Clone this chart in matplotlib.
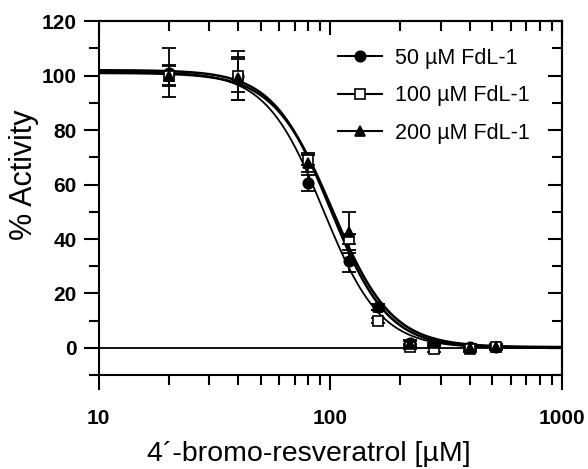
import numpy as np
import matplotlib
matplotlib.use("Agg")
import matplotlib.pyplot as plt
from matplotlib.ticker import LogLocator, MultipleLocator, NullFormatter, FixedLocator

# measured points
conc = [20, 40, 80, 120, 160, 220, 280, 400, 520]
act_50 = [101, 100, 60.5, 32, 15, 2, 1, 0.5, 0.5]
err_50 = [9, 9, 3, 4, 1, 1, 1, 1, 1]
act_100 = [100, 100, 69, 40, 10, 0.5, -0.5, -0.5, 0.3]
err_100 = [4, 6, 2, 2, 1, 1, 1, 1, 1]
act_200 = [100, 99, 68, 42.5, 15, 1.5, 2, 0, 0.5]
err_200 = [3.5, 8, 3.5, 7.5, 1, 1, 1, 1, 1]

# fitted dose-response parameters (top, bottom, IC50, hill)
fit_50 = (101.5, 0, 93, 3.5)
fit_100 = (102, 0, 100, 3.5)
fit_200 = (101, 0.3, 102, 3.4)

labels = ["50 µM FdL-1", "100 µM FdL-1", "200 µM FdL-1"]


def hill(x, p):
    top, bottom, ic50, n = p
    return bottom + (top - bottom) / (1 + (x / ic50) ** n)


plt.rcParams['font.family'] = ['Liberation Sans', 'DejaVu Sans']

fig = plt.figure(figsize=(5.88, 4.69), dpi=100)
ax = fig.add_axes([0.168, 0.200, 0.788, 0.755])

xs = np.logspace(1, 3, 400)
ax.axhline(0, color='black', lw=1.3, zorder=1)

series = [
    (act_50, err_50, fit_50, 'o', 'black', 1.3),
    (act_100, err_100, fit_100, 's', 'white', 1.8),
    (act_200, err_200, fit_200, '^', 'black', 1.8),
]
for (y, e, p, m, fc, lw), lab in zip(series, labels):
    ax.plot(xs, hill(xs, p), color='black', lw=lw, zorder=2)
    ax.errorbar(conc, y, yerr=e, fmt='none', ecolor='black', elinewidth=1.3,
                capsize=5, capthick=1.3, zorder=3)
    ax.plot(conc, y, ls='none', marker=m, ms=7.5, mfc=fc, mec='black',
            mew=1.2, zorder=4)
    ax.plot([], [], color='black', lw=1.5, marker=m, ms=7.5, mfc=fc,
            mec='black', mew=1.2, label=lab)

ax.set_xscale('log')
ax.set_xlim(10, 1000)
ax.set_ylim(-10, 120)

ax.xaxis.set_major_locator(FixedLocator([10, 100, 1000]))
ax.xaxis.set_minor_locator(LogLocator(base=10, subs=np.arange(2, 10)))
ax.xaxis.set_minor_formatter(NullFormatter())
ax.set_xticklabels(['10', '100', '1000'])
ax.set_yticks([0, 20, 40, 60, 80, 100, 120])
ax.yaxis.set_minor_locator(MultipleLocator(10))

for s in ax.spines.values():
    s.set_linewidth(1.5)

ax.tick_params(axis='x', which='major', direction='out', length=11, width=1.5,
               pad=13, labelsize=15, top=False)
ax.tick_params(axis='x', which='minor', direction='out', length=7, width=1.5,
               top=False)
ax.tick_params(axis='y', which='major', direction='out', length=11, width=1.5,
               pad=5, labelsize=15, right=False)
ax.tick_params(axis='y', which='minor', direction='out', length=7, width=1.5,
               right=False)
for lbl in ax.get_xticklabels() + ax.get_yticklabels():
    lbl.set_fontweight('bold')

# inward ticks on top and right
axt = ax.secondary_xaxis('top')
axt.xaxis.set_major_locator(FixedLocator([10, 100, 1000]))
axt.xaxis.set_minor_locator(LogLocator(base=10, subs=np.arange(2, 10)))
axt.tick_params(which='major', direction='in', length=10, width=1.5, labeltop=False)
axt.tick_params(which='minor', direction='in', length=7, width=1.5)
axt.xaxis.set_minor_formatter(NullFormatter())
axt.spines['top'].set_linewidth(1.5)
axr = ax.secondary_yaxis('right')
axr.yaxis.set_major_locator(MultipleLocator(20))
axr.yaxis.set_minor_locator(MultipleLocator(10))
axr.tick_params(which='major', direction='in', length=10, width=1.5, labelright=False)
axr.tick_params(which='minor', direction='in', length=7, width=1.5)
axr.spines['right'].set_linewidth(1.5)

ax.set_xlabel("4´-bromo-resveratrol [µM]", fontsize=20.5)
ax.xaxis.set_label_coords(0.454, -0.185)
ax.set_ylabel("% Activity", fontsize=22)
ax.yaxis.set_label_coords(-0.128, 0.565)

ax.legend(loc='upper left', bbox_to_anchor=(0.516, 0.925), frameon=False,
          borderpad=0, borderaxespad=0,
          fontsize=15.5, handlelength=2.05, labelspacing=0.77, handletextpad=0.6)

fig.savefig("out.png", dpi=100)
